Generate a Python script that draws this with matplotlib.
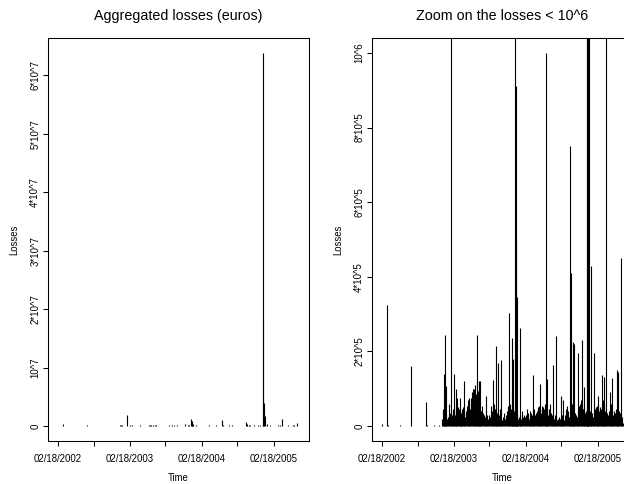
import matplotlib
matplotlib.use("Agg")
import matplotlib.pyplot as plt
import matplotlib.dates as mdates
import pandas as pd

plt.rcParams['font.family'] = ['Liberation Sans', 'DejaVu Sans']

# ------------------------------------------------------------------------------
# data (daily aggregated losses, euros)

spike_dates = [
  "2002-02-18", "2002-03-15", "2002-03-20", "2002-05-24", "2002-07-19",
  "2002-10-03", "2002-10-06", "2002-11-10", "2002-12-05", "2002-12-30",
  "2003-01-04", "2003-01-11", "2003-02-05", "2003-02-22", "2003-02-28",
  "2003-03-21", "2003-04-12", "2003-05-06", "2003-05-31", "2003-06-17",
  "2003-06-25", "2003-07-04", "2003-08-02", "2003-09-06", "2003-09-20",
  "2003-10-02", "2003-10-17", "2003-11-25", "2003-12-10", "2003-12-15",
  "2003-12-24", "2003-12-30", "2004-01-02", "2004-01-06", "2004-01-23",
  "2004-03-28", "2004-05-01", "2004-05-31", "2004-06-05", "2004-07-06",
  "2004-07-21", "2004-08-14", "2004-08-26", "2004-10-02", "2004-10-06",
  "2004-10-14", "2004-10-20", "2004-11-12", "2004-12-02", "2004-12-11",
  "2004-12-27", "2004-12-28", "2004-12-29", "2005-01-04", "2005-01-14",
  "2005-01-30", "2005-02-17", "2005-03-11", "2005-03-23", "2005-04-02",
  "2005-04-21", "2005-05-01", "2005-05-25", "2005-05-30", "2005-06-16",
  "2005-06-28",
]
spike_losses = [
  5e3, 3.25e5, 3e3, 2e3, 1.6e5,
  6.4e4, 4e3, 3e3, 3e3, 1.4e5,
  2.44e5, 1.07e5, 1.9e6, 1.39e5, 1.0e5,
  7.5e4, 1.22e5, 7.5e4, 1.0e5, 2.44e5,
  1.2e5, 1.2e5, 8e4, 1.24e5, 2.15e5,
  1.7e5, 1.78e5, 3.02e5, 2.35e5, 1.8e5,
  1.15e6, 9.12e5, 5.0e5, 3.45e5, 2.62e5,
  1.37e5, 1.13e5, 1.0e6, 1.25e5, 1.65e5,
  2.42e5, 8e4, 7e4, 7.5e5, 4.1e5,
  2.25e5, 2.2e5, 1.95e5, 2.3e5, 1.05e5,
  6.38e7, 1.83e7, 4.0e6, 1.75e6, 4.3e5,
  1.97e5, 8e4, 1.37e5, 1.32e5, 1.2e6,
  9e4, 1.3e5, 1.5e5, 1.45e5, 4.5e5,
  8e3,
]

# the dense floor of small losses, one value every 5 days (thousands of euros)
floor_start = "2002-12-20"
floor_losses_k = [
  20, 45, 25, 15, 30, 20, 25, 60, 35, 20,
  30, 45, 40, 30, 60, 75, 50, 45, 40, 35,
  30, 45, 50, 35, 25, 40, 55, 70, 60, 45,
  75, 90, 100, 95, 110, 85, 70, 95, 60, 45,
  40, 55, 35, 30, 25, 40, 30, 20, 30, 25,
  55, 40, 65, 60, 45, 50, 35, 25, 30, 45,
  20, 15, 25, 35, 20, 30, 40, 55, 35, 60,
  45, 95, 60, 40, 30, 25, 35, 20, 25, 30,
  20, 40, 25, 30, 25, 30, 45, 35, 20, 25,
  40, 35, 30, 25, 45, 30, 35, 40, 50, 55,
  45, 35, 55, 50, 45, 60, 55, 40, 30, 45,
  60, 35, 30, 25, 20, 30, 25, 15, 20, 25,
  20, 25, 30, 20, 15, 30, 45, 55, 40, 25,
  30, 45, 60, 50, 40, 35, 30, 25, 40, 55,
  60, 70, 50, 45, 60, 35, 40, 25, 30, 45,
  40, 30, 35, 25, 40, 45, 50, 55, 60, 45,
  40, 50, 45, 60, 70, 55, 40, 45, 35, 30,
  40, 50, 60, 45, 30, 40, 35, 45, 30, 25,
  40, 35, 30, 25,
]

zoom_max = 1e6

xtick_dates = ["2002-02-18", "2002-08-19", "2003-02-18", "2003-08-19",
               "2004-02-18", "2004-08-18", "2005-02-18"]
xtick_labels = ["02/18/2002", "", "02/18/2003", "", "02/18/2004", "", "02/18/2005"]

left_yticks = [0, 1e7, 2e7, 3e7, 4e7, 5e7, 6e7]
left_ylabels = ["0", "10^7", "2*10^7", "3*10^7", "4*10^7", "5*10^7", "6*10^7"]
right_yticks = [0, 2e5, 4e5, 6e5, 8e5, 1e6]
right_ylabels = ["0", "2*10^5", "4*10^5", "6*10^5", "8*10^5", "10^6"]

# ------------------------------------------------------------------------------

dates = pd.to_datetime(spike_dates).append(
  pd.date_range(floor_start, periods=len(floor_losses_k), freq="5D"))
losses = spike_losses + [v*1000 for v in floor_losses_k]

def panel(ax, ymax, yticks, ylabels, title):
  ax.vlines(dates, 0, losses, color="k", lw=0.8)

  d0 = mdates.date2num(dates.min())
  d1 = mdates.date2num(dates.max())
  pad = 0.04*(d1 - d0)
  ax.set_xlim(d0 - pad, d1 + pad)
  ax.set_ylim(-0.04*ymax, 1.04*ymax)

  ax.set_xticks(mdates.date2num(pd.to_datetime(xtick_dates)))
  ax.set_xticklabels(xtick_labels)
  ax.set_yticks(yticks)
  ax.set_yticklabels(ylabels, rotation=90, va="center")

  ax.tick_params(axis="both", direction="out", length=3.6, width=0.75,
                 labelsize=6.9, color="k")
  ax.tick_params(axis="x", pad=5.5)
  ax.tick_params(axis="y", pad=2)
  for s in ax.spines.values():
    s.set_linewidth(0.75)

  ax.set_title(title, fontsize=10.3, pad=13)
  ax.set_xlabel("Time", fontsize=6.9)
  ax.set_ylabel("Losses", fontsize=6.9)
  ax.xaxis.set_label_coords(0.5, -0.092)
  ax.xaxis.label.set_va("center")
  ax.yaxis.set_label_coords(-0.130, 0.5)
  ax.yaxis.label.set_va("center")

fig = plt.figure(figsize=(6.24, 4.84), dpi=100)
ax1 = fig.add_axes([48/624, 43/484, 261/624, 403/484])
ax2 = fig.add_axes([372/624, 43/484, 261/624, 403/484])

panel(ax1, max(losses), left_yticks, left_ylabels, "Aggregated losses (euros)")
panel(ax2, zoom_max, right_yticks, right_ylabels, "Zoom on the losses < 10^6")

fig.savefig("out.png", dpi=100)
